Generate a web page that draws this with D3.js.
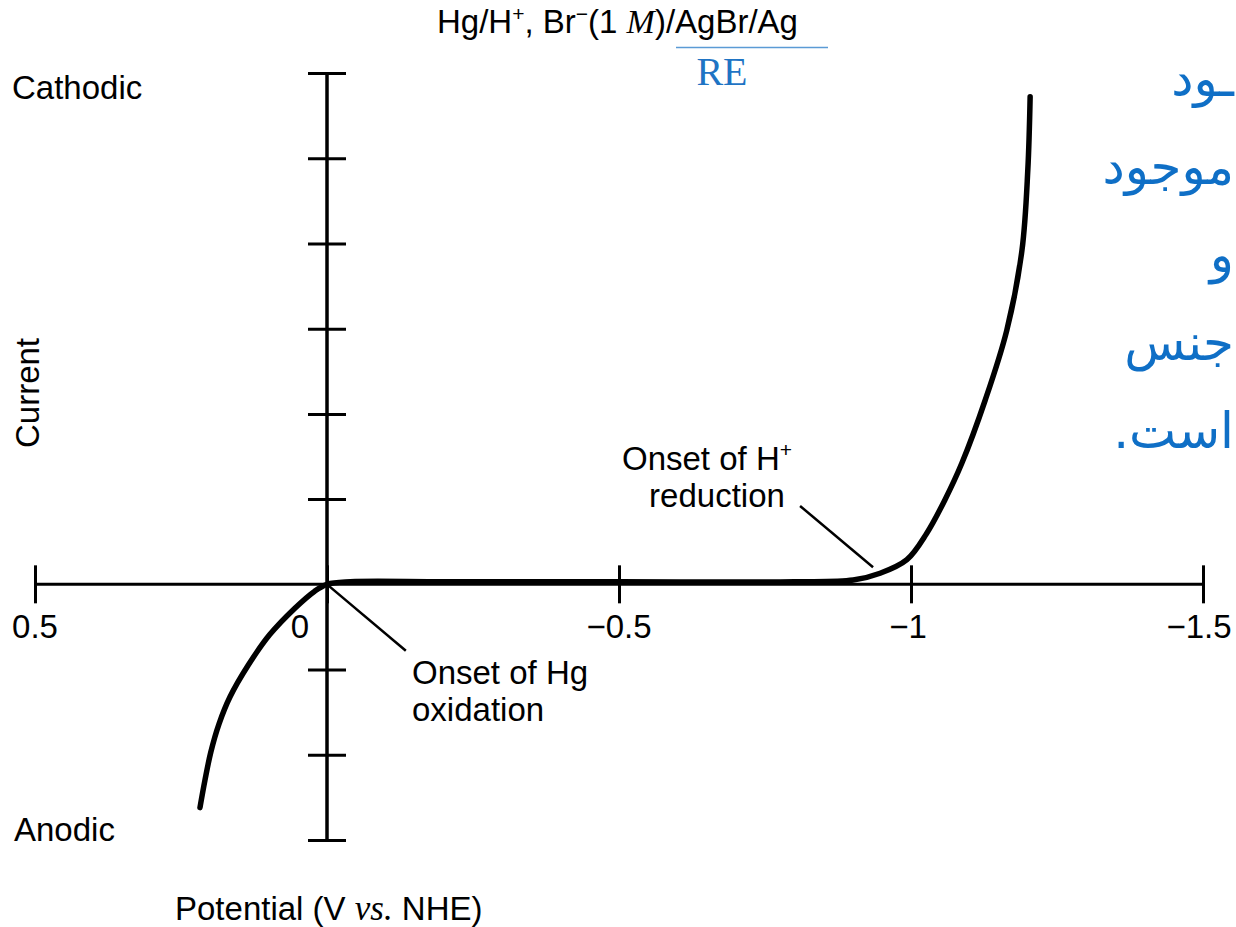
<!DOCTYPE html>
<html>
<head>
<meta charset="utf-8">
<script src="https://cdn.jsdelivr.net/npm/d3@7"></script>
<style>
  body { margin: 0; background: #fff; }
  svg { display: block; }
  text { fill: #000; }
</style>
</head>
<body>
<div id="chart"></div>
<script>
// potential (V vs. NHE) and current (arbitrary tick units)
const POTENTIAL = [0.2175, 0.209, 0.199, 0.185, 0.166, 0.135, 0.098, 0.055, 0.021, 0, -0.04,
  -0.2, -0.5, -0.8, -0.901, -0.947, -0.993, -1.027, -1.058, -1.087, -1.127,
  -1.164, -1.190, -1.200, -1.204];
const CURRENT = [-2.62, -2.30, -1.97, -1.64, -1.32, -0.95, -0.59, -0.28, -0.08, 0, 0.03,
  0.03, 0.03, 0.03, 0.05, 0.13, 0.29, 0.60, 0.99, 1.42, 2.16,
  2.98, 3.92, 4.86, 5.72];

const X_TICKS = [0.5, 0, -0.5, -1, -1.5];
const X_TICK_LABELS = ['0.5', '0', '\u22120.5', '\u22121', '\u22121.5'];
const Y_TICKS = [-3, -2, -1, 1, 2, 3, 4, 5, 6];

// leader lines for the two annotations, [potential, current] pairs
const HG_LEADER = [[0, 0], [-0.135, -0.78]];
const H_LEADER = [[-0.81, 0.92], [-0.935, 0.20]];

// persian caption fragments on the right edge
const PERSIAN_LINES = ['ـود', 'موجود', 'و', 'جنس', 'است.'];

const SANS = '"Liberation Sans", Arial, sans-serif';
const SERIF = '"Liberation Serif", "Times New Roman", serif';

const width = 1236;
const height = 927;

const svg = d3.select('#chart')
  .append('svg')
    .attr('width', width)
    .attr('height', height)
    .style('font-family', SANS);

const x = d3.scaleLinear().domain([0.5, -1.5]).range([35, 1203]);
const y = d3.scaleLinear().domain([-3, 6]).range([840, 73]);

const halfTick = 19;

// horizontal (potential) axis, ticks cross the line
const xAxis = d3.axisBottom(x)
  .tickValues(X_TICKS)
  .tickSize(halfTick * 2)
  .tickFormat('');

svg.append('g')
    .attr('transform', 'translate(0,' + (y(0) - halfTick) + ')')
    .call(xAxis)
    .call(g => g.select('.domain').remove())
    .call(g => g.selectAll('.tick line').attr('stroke', '#000').attr('stroke-width', 3));

svg.append('line')
    .attr('x1', x(0.5)).attr('x2', x(-1.5))
    .attr('y1', y(0)).attr('y2', y(0))
    .attr('stroke', '#000')
    .attr('stroke-width', 3);

// vertical (current) axis
const yAxis = d3.axisRight(y)
  .tickValues(Y_TICKS)
  .tickSize(halfTick * 2)
  .tickFormat('');

svg.append('g')
    .attr('transform', 'translate(' + (x(0) - halfTick) + ',0)')
    .call(yAxis)
    .call(g => g.select('.domain').remove())
    .call(g => g.selectAll('.tick line').attr('stroke', '#000').attr('stroke-width', 3));

svg.append('line')
    .attr('x1', x(0)).attr('x2', x(0))
    .attr('y1', y(6)).attr('y2', y(-3))
    .attr('stroke', '#000')
    .attr('stroke-width', 3.5);

const fs = 33;

// tick labels
const labelOffsets = [0, -27, 0, -3, -4];
svg.append('g')
  .selectAll('text')
  .data(X_TICKS)
  .join('text')
    .attr('x', (d, i) => x(d) + labelOffsets[i])
    .attr('y', 638)
    .attr('text-anchor', 'middle')
    .attr('font-size', fs)
    .text((d, i) => X_TICK_LABELS[i]);

// the curve
const points = POTENTIAL.map((v, i) => [x(v), y(CURRENT[i])]);
const line = d3.line().curve(d3.curveCatmullRom.alpha(0.5));

svg.append('path')
    .attr('d', line(points))
    .attr('fill', 'none')
    .attr('stroke', '#000')
    .attr('stroke-width', 5.5)
    .attr('stroke-linecap', 'round')
    .attr('stroke-linejoin', 'round');

// annotation leaders
[HG_LEADER, H_LEADER].forEach(seg => {
  svg.append('line')
      .attr('x1', x(seg[0][0])).attr('y1', y(seg[0][1]))
      .attr('x2', x(seg[1][0])).attr('y2', y(seg[1][1]))
      .attr('stroke', '#000')
      .attr('stroke-width', 2.5);
});

svg.append('text').attr('x', 12).attr('y', 99).attr('font-size', fs).text('Cathodic');
svg.append('text').attr('x', 14).attr('y', 841).attr('font-size', fs).text('Anodic');

svg.append('text')
    .attr('transform', 'translate(39,393) rotate(-90)')
    .attr('text-anchor', 'middle')
    .attr('font-size', fs)
    .text('Current');

const xlab = svg.append('text').attr('x', 175).attr('y', 920).attr('font-size', fs);
xlab.append('tspan').text('Potential (V ');
xlab.append('tspan')
    .style('font-family', SERIF)
    .style('font-style', 'italic')
    .attr('font-size', 35)
    .text('vs.');
xlab.append('tspan').text(' NHE)');

// annotations
const hLab = svg.append('text').attr('x', 622).attr('y', 470).attr('font-size', fs);
hLab.append('tspan').text('Onset of H');
hLab.append('tspan').attr('font-size', 21).attr('dy', -13).text('+');
svg.append('text').attr('x', 717).attr('y', 507).attr('text-anchor', 'middle')
    .attr('font-size', fs).text('reduction');

svg.append('text').attr('x', 412).attr('y', 684).attr('font-size', fs).text('Onset of Hg');
svg.append('text').attr('x', 412).attr('y', 721).attr('font-size', fs).text('oxidation');

// title with reference electrode
const title = svg.append('text').attr('x', 437).attr('y', 33).attr('font-size', 33);
title.append('tspan').text('Hg/H');
title.append('tspan').attr('font-size', 21).attr('dy', -12).text('+');
title.append('tspan').attr('dy', 12).text(', Br');
title.append('tspan').attr('font-size', 21).attr('dy', -12).text('\u2212');
title.append('tspan').attr('dy', 12).text('(1 ');
title.append('tspan')
    .style('font-family', SERIF)
    .style('font-style', 'italic')
    .attr('font-size', 34)
    .text('M');
title.append('tspan').text(')/AgBr/Ag');

svg.append('line')
    .attr('x1', 676).attr('x2', 828)
    .attr('y1', 47.5).attr('y2', 47.5)
    .attr('stroke', '#5b9bd5')
    .attr('stroke-width', 1.5);

svg.append('text')
    .attr('x', 722).attr('y', 85)
    .attr('text-anchor', 'middle')
    .style('font-family', SERIF)
    .attr('font-size', 40)
    .style('fill', '#1f74c4')
    .text('RE');

// persian text, right aligned against the edge
svg.append('g')
  .selectAll('text')
  .data(PERSIAN_LINES)
  .join('text')
    .attr('x', 1234)
    .attr('y', (d, i) => 96 + i * 88)
    .attr('direction', 'rtl')
    .attr('text-anchor', 'start')
    .style('font-family', '"DejaVu Sans", sans-serif')
    .attr('font-size', 50)
    .style('fill', '#0f6fc6')
    .text(d => d);
</script>
</body>
</html>
